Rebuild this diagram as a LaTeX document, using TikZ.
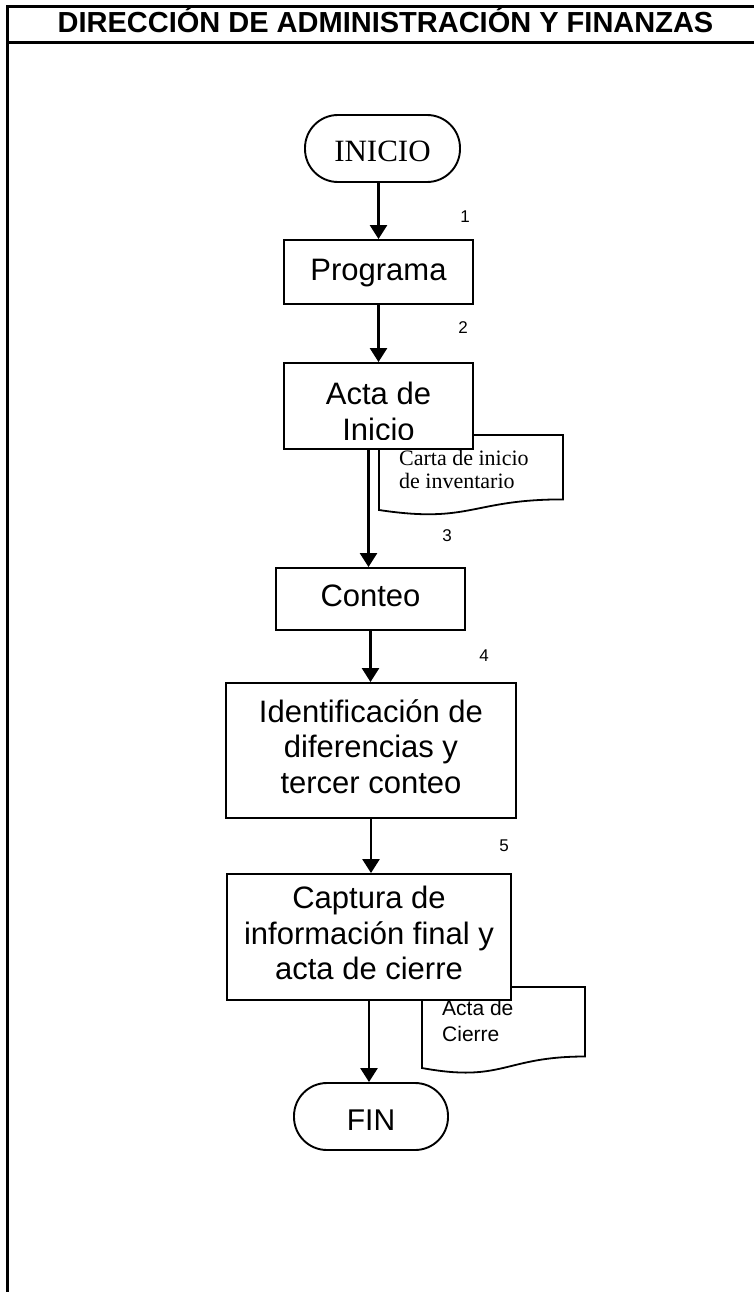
\documentclass[tikz,border=0pt]{standalone}
\usepackage{fontspec}
\setmainfont{Liberation Serif}
\setsansfont{Liberation Sans}
\usetikzlibrary{arrows.meta,calc}

% invisible rule giving every first/last line the full line height
\newcommand\linestrut{\rule[-10.6pt]{0pt}{35.5pt}}

\begin{document}
\begin{tikzpicture}[x=1pt,y=-1pt,
  frameline/.style={line width=3pt},
  stepbox/.style={draw, line width=1.9pt, fill=white, rectangle, inner sep=0pt,
    align=center, font=\sffamily\fontsize{31}{35.5}\selectfont},
  terminal/.style={draw, line width=1.9pt, fill=white, rectangle,
    rounded corners=33pt, inner sep=0pt},
  flow/.style={line width=2.6pt, -{Triangle[width=17pt,length=14pt]}},
  stepno/.style={font=\sffamily\fontsize{17}{20}\selectfont, inner sep=0pt},
  docshape/.style={draw, line width=1.8pt, fill=white},
  doctext/.style={anchor=base west, inner sep=0pt},
]
\useasboundingbox (0,0) rectangle (754,1292);

% page frame and header
\draw[frameline] (754,7) -- (7.5,7) -- (7.5,1292);
\draw[frameline] (7.5,43) -- (754,43);
\node[font=\sffamily\bfseries\fontsize{29}{33}\selectfont, anchor=base, inner sep=0pt]
  (title) at (385.5,33) {DIRECCIÓN DE ADMINISTRACIÓN Y FINANZAS};

% documents (drawn first, the step boxes overlap them)
\draw[docshape] (379,435) -- (563,435) -- (563,499.4)
  .. controls (471,499.4) and (471,523.9) .. (379,510) -- cycle;
\node[doctext, font=\rmfamily\fontsize{22}{23}\selectfont] (carta1) at (399,465) {Carta de inicio};
\node[doctext, font=\rmfamily\fontsize{22}{23}\selectfont] (carta2) at (399,488) {de inventario};

\draw[docshape] (422,987) -- (585,987) -- (585,1056.5)
  .. controls (503.5,1056.5) and (503.5,1083) .. (422,1068) -- cycle;
\node[doctext, font=\sffamily\fontsize{21}{25}\selectfont] (cierre1) at (442,1015) {Acta de};
\node[doctext, font=\sffamily\fontsize{21}{25}\selectfont] (cierre2) at (442,1041) {Cierre};

% flow steps
\node[terminal, minimum width=155pt, minimum height=67pt,
  font=\rmfamily\fontsize{31}{35}\selectfont, text height=26.4pt, text depth=0pt]
  (inicio) at (382.5,148.5) {INICIO};
\node[stepbox, minimum width=189pt, minimum height=64pt, text height=22pt, text depth=6pt]
  (programa) at (378.5,272) {Programa};
\node[stepbox, minimum width=189pt, minimum height=86pt] (acta) at (378.5,406) {};
\begin{scope}
  \clip (286,365) rectangle (471,439.5);
  \node[anchor=base, inner sep=0pt, font=\sffamily\fontsize{31}{35.5}\selectfont]
    (acta1) at (378.5,404) {Acta de};
  \node[anchor=base, inner sep=0pt, font=\sffamily\fontsize{31}{35.5}\selectfont]
    (acta2) at (378.5,440) {Inicio};
\end{scope}
\node[stepbox, minimum width=189pt, minimum height=62pt, text height=22pt, text depth=8pt]
  (conteo) at (370.5,599) {Conteo};
\node[stepbox, minimum width=290pt, minimum height=135pt]
  (ident) at (371,750.5) {\linestrut Identificación de\\diferencias y\\tercer conteo\linestrut};
\node[stepbox, minimum width=284pt, minimum height=126pt]
  (captura) at (369,937) {\linestrut Captura de\\información final y\\acta de cierre\linestrut};
\node[terminal, minimum width=154pt, minimum height=67pt,
  font=\sffamily\fontsize{30}{34}\selectfont, text height=28pt, text depth=0pt]
  (fin) at (371,1116.5) {FIN};

% connectors
\draw[flow] (inicio.south -| programa.north) -- (programa.north);
\draw[flow] (programa.south) -- (acta.north);
\coordinate (actaout) at ([xshift=-10pt]acta.south);
\draw[flow] (actaout) -- (actaout |- conteo.north);
\draw[flow] (conteo.south) -- (conteo.south |- ident.north);
\draw[flow] (ident.south) -- (ident.south |- captura.north);
\draw[flow] (captura.south) -- (captura.south |- fin.north);

% step numbers
\node[stepno] (n1) at (465,217) {1};
\node[stepno] (n2) at (463,328) {2};
\node[stepno] (n3) at (447,536) {3};
\node[stepno] (n4) at (484,656) {4};
\node[stepno] (n5) at (504,846) {5};
\end{tikzpicture}
\end{document}
